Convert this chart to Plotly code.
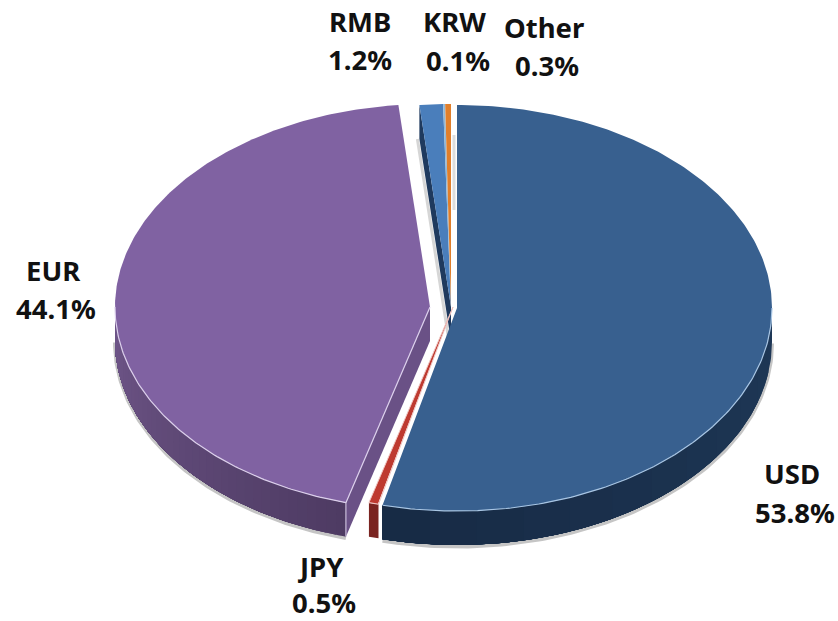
import numpy as np
import plotly.graph_objects as go

# --- data (clockwise from 12 o'clock) ---
currencies = ["USD", "JPY", "EUR", "RMB", "KRW", "Other"]
shares = [53.8, 0.5, 44.1, 1.2, 0.1, 0.3]

# --- styles / layout ---
top_colors = ["#38608F", "#BE3A30", "#8062A2", "#4A7EBB", "#8FB8D8", "#E07F2C"]
side_colors = [("#1E3756", "#172B45"), ("#7A2420", "#7A2420"), ("#4E3B63", "#6F5689"),
               ("#1F3A5E", "#1F3A5E"), ("#1F3A5E", "#1F3A5E"), ("#A85F20", "#A85F20")]
rim_colors = ["#A9C6E4", "#EFC4C0", "#DCD0EC", "#A9C6E4", "#A9C6E4", "#F0C090"]
apex_x = [457, 453, 430, 451, 451, 451]
apex_y = [308, 307, 307, 307, 307, 307]
RX, RY, DEPTH = 315, 203, 34

name_pos = [(792, 473), (320, 566), (53, 270), (360, 21), (454, 21), (544, 27)]
value_pos = [(795, 512), (324, 602), (56, 308), (360, 59), (458, 60), (547, 65)]
FONT = dict(family="Noto Sans", size=27.5, color="#111111")

fig = go.Figure()


def poly(xs, ys, fill):
    fig.add_trace(go.Scatter(
        x=list(xs), y=list(ys), mode="lines", fill="toself", fillcolor=fill,
        line=dict(color=fill, width=0), hoverinfo="skip", showlegend=False))


def stroke(xs, ys, color, width=1):
    fig.add_trace(go.Scatter(
        x=list(xs), y=list(ys), mode="lines", line=dict(color=color, width=width),
        hoverinfo="skip", showlegend=False))


def rim(cx, cy, angles):
    return cx + RX * np.sin(angles), cy - RY * np.cos(angles)


def mix(a, b, t):
    ca = [int(a[i:i + 2], 16) for i in (1, 3, 5)]
    cb = [int(b[i:i + 2], 16) for i in (1, 3, 5)]
    return "#%02x%02x%02x" % tuple(round(p + (q - p) * t) for p, q in zip(ca, cb))


edges = np.radians(np.concatenate([[0], np.cumsum(shares)]) * 3.6)
spans = list(zip(edges[:-1], edges[1:]))

# soft shadow under the visible outer walls
for i in (0, 2):
    a0, a1 = max(spans[i][0], np.pi / 2), min(spans[i][1], 3 * np.pi / 2)
    sx, sy = rim(apex_x[i], apex_y[i] + DEPTH, np.linspace(a0, a1, 120))
    stroke(sx, sy + 1.5, "rgba(90,90,90,0.35)", 4)

# back slices first: RMB cut wall, with faint shadows beside it
a = spans[3][0]
px, py = rim(apex_x[3], apex_y[3], np.array([a]))
stroke([px[0] - 2, apex_x[3] - 2], [py[0] + DEPTH, apex_y[3] + DEPTH],
       "rgba(120,120,120,0.3)", 3)
poly([px[0], apex_x[3], apex_x[3], px[0]],
     [py[0], apex_y[3], apex_y[3] + DEPTH, py[0] + DEPTH], side_colors[3][0])
stroke([454, 454], [135, 210], "rgba(120,120,120,0.25)", 3)

# EUR cut wall and outer wall
a = spans[2][0]
px, py = rim(apex_x[2], apex_y[2], np.array([a]))
poly([px[0], apex_x[2], apex_x[2], px[0]],
     [py[0], apex_y[2], apex_y[2] + DEPTH, py[0] + DEPTH], "#6A5186")

for i in (2, 0, 1):
    a0, a1 = max(spans[i][0], np.pi / 2), min(spans[i][1], 3 * np.pi / 2)
    steps = 40 if i == 2 else (12 if i == 0 else 1)
    cuts = np.linspace(a0, a1, steps + 1)
    # painter's order: each band overlays everything after it, so no seams appear
    for k in range(steps):
        arc = np.linspace(cuts[k], a1, 120)
        ax, ay = rim(apex_x[i], apex_y[i], arc)
        col = mix(side_colors[i][0], side_colors[i][1], k / max(steps - 1, 1))
        poly(np.r_[ax, ax[::-1]], np.r_[ay, ay[::-1] + DEPTH], col)

# top faces
for i in (3, 4, 5, 2, 1, 0):
    arc = np.linspace(spans[i][0], spans[i][1], 240)
    ax, ay = rim(apex_x[i], apex_y[i], arc)
    poly(np.r_[apex_x[i], ax, apex_x[i]], np.r_[apex_y[i], ay, apex_y[i]], top_colors[i])

# highlights along the front rim and the cut edges
for i in (0, 1, 2):
    a0, a1 = max(spans[i][0], np.pi / 2), min(spans[i][1], 3 * np.pi / 2)
    ax, ay = rim(apex_x[i], apex_y[i], np.linspace(a0, a1, 120))
    stroke(ax, ay, rim_colors[i], 1.2)
px, py = rim(apex_x[2], apex_y[2], np.array([spans[2][0]]))
stroke([apex_x[2], px[0]], [apex_y[2], py[0]], rim_colors[2], 1.2)
stroke([px[0], px[0]], [py[0], py[0] + DEPTH], rim_colors[2], 1)
px, py = rim(apex_x[1], apex_y[1], np.array([spans[1][1]]))
stroke([apex_x[1], px[0]], [apex_y[1], py[0]], rim_colors[1], 1)
px, py = rim(apex_x[1], apex_y[1], np.array([spans[1][0]]))
stroke([apex_x[1], px[0]], [apex_y[1], py[0]], rim_colors[1], 1)

# labels
for name, share, np_, vp in zip(currencies, shares, name_pos, value_pos):
    fig.add_annotation(x=np_[0], y=np_[1], text=f"<b>{name}</b>", showarrow=False, font=FONT)
    fig.add_annotation(x=vp[0], y=vp[1], text=f"<b>{share:.1f}%</b>", showarrow=False, font=FONT)

fig.update_layout(
    width=838, height=621, margin=dict(l=0, r=0, t=0, b=0),
    paper_bgcolor="white", plot_bgcolor="white", showlegend=False,
    xaxis=dict(range=[0, 838], visible=False, fixedrange=True),
    yaxis=dict(range=[621, 0], visible=False, fixedrange=True),
)
fig.write_html("out.html", config=dict(displayModeBar=False),
               post_script="document.body.style.margin='0';document.documentElement.style.overflow='hidden';")
